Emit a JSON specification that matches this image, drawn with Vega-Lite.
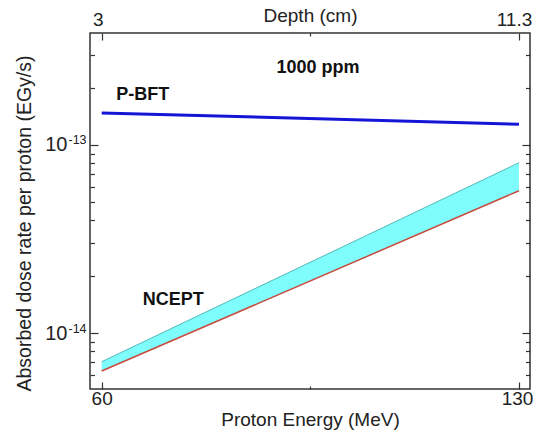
{
  "$schema": "https://vega.github.io/schema/vega-lite/v6.json",
  "width": 440,
  "height": 356,
  "autosize": {"type": "none"},
  "padding": {"left": 90, "top": 33, "right": 3, "bottom": 44},
  "background": "white",
  "config": {
    "font": "Liberation Sans",
    "view": {"stroke": "#333333", "strokeWidth": 1.5},
    "axis": {
      "domain": false,
      "grid": false,
      "tickColor": "#333333",
      "tickWidth": 1.2,
      "labelFontSize": 19,
      "labelColor": "#222222",
      "titleFontSize": 19,
      "titleFontWeight": "normal",
      "titleColor": "#222222"
    }
  },
  "datasets": {
    "series": [
      {"E": 60, "pbft": 1.48e-13, "lo": 6.28e-15, "hi": 7.04e-15},
      {"E": 130, "pbft": 1.29e-13, "lo": 5.71e-14, "hi": 8.05e-14}
    ],
    "labels": [
      {"E": 96.3, "v": 2.57e-13, "t": "1000 ppm"},
      {"E": 66.9, "v": 1.85e-13, "t": "P-BFT"},
      {"E": 72.0, "v": 1.5e-14, "t": "NCEPT"}
    ]
  },
  "layer": [
    {
      "data": {"name": "series"},
      "mark": {"type": "area", "color": "#7ffcfc", "opacity": 1},
      "encoding": {
        "x": {
          "field": "E", "type": "quantitative",
          "scale": {"domain": [58.04, 131.85], "nice": false, "zero": false},
          "axis": {
            "orient": "bottom",
            "title": "Proton Energy (MeV)",
            "values": [60, 95, 130],
            "tickSize": {"condition": {"test": "datum.value === 95", "value": -3}, "value": -7},
            "labelExpr": "datum.value === 95 ? '' : datum.label",
            "labelOffset": {"condition": {"test": "datum.value === 130", "value": -2}, "value": 0},
            "labelFontSize": 19,
            "labelPadding": 7,
            "titleFontSize": 19,
            "titleY": 21,
            "titleBaseline": "top"
          }
        },
        "y": {
          "field": "hi", "type": "quantitative",
          "scale": {"type": "log", "domain": [5.04e-15, 3.94e-13], "nice": false},
          "axis": {
            "orient": "left",
            "title": "Absorbed dose rate per proton (EGy/s)",
            "values": [6e-15, 7e-15, 8e-15, 9e-15, 1e-14, 2e-14, 3e-14, 4e-14, 5e-14, 6e-14, 7e-14, 8e-14, 9e-14, 1e-13, 2e-13, 3e-13],
            "tickSize": {"condition": {"test": "datum.value === 1e-13 || datum.value === 1e-14", "value": -8}, "value": -4.5},
            "labelExpr": "(datum.value === 1e-13 || datum.value === 1e-14) ? '10' : ''",
            "labelFontSize": 20,
            "labelPadding": 31,
            "labelBaseline": "middle",
            "titleFontSize": 19.5,
            "titleX": -56,
            "titleY": 190
          }
        },
        "y2": {"field": "lo"}
      }
    },
    {
      "data": {"name": "series"},
      "mark": {"type": "line", "color": "#1515d8", "strokeWidth": 3},
      "encoding": {
        "x": {
          "field": "E", "type": "quantitative",
          "scale": {"domain": [58.04, 131.85], "nice": false, "zero": false},
          "axis": {
            "orient": "top",
            "title": "Depth (cm)",
            "values": [60, 95, 130],
            "tickSize": {"condition": {"test": "datum.value === 95", "value": -3}, "value": -7},
            "labelExpr": "datum.value === 60 ? '3' : (datum.value === 130 ? '11.3' : '')",
            "labelOffset": {"condition": {"test": "datum.value === 130", "value": -5}, "value": -4},
            "labelFontSize": 19,
            "labelPadding": 11,
            "titleFontSize": 19,
            "titleY": -18,
            "titleBaseline": "middle"
          }
        },
        "y": {
          "field": "pbft", "type": "quantitative",
          "scale": {"type": "log", "domain": [5.04e-15, 3.94e-13], "nice": false},
          "axis": {
            "orient": "right",
            "title": null,
            "values": [6e-15, 7e-15, 8e-15, 9e-15, 1e-14, 2e-14, 3e-14, 4e-14, 5e-14, 6e-14, 7e-14, 8e-14, 9e-14, 1e-13, 2e-13, 3e-13],
            "tickSize": {"condition": {"test": "datum.value === 1e-13 || datum.value === 1e-14", "value": -8}, "value": -4.5},
            "labels": false
          }
        }
      }
    },
    {
      "data": {"name": "series"},
      "mark": {"type": "line", "color": "#c84a3c", "strokeWidth": 1.5},
      "encoding": {
        "x": {"field": "E", "type": "quantitative", "axis": null},
        "y": {
          "field": "lo", "type": "quantitative",
          "scale": {"type": "log", "domain": [5.04e-15, 3.94e-13], "nice": false},
          "axis": {
            "orient": "left",
            "title": null,
            "ticks": false,
            "values": [1e-14, 1e-13],
            "labelExpr": "datum.value === 1e-13 ? '-13' : '-14'",
            "labelFontSize": 12.5,
            "labelAlign": "left",
            "labelBaseline": "middle",
            "labelPadding": 22,
            "labelOffset": -5
          }
        }
      }
    },
    {
      "data": {"name": "series"},
      "mark": {"type": "line", "color": "#3aa7a7", "strokeWidth": 0.8},
      "encoding": {
        "x": {"field": "E", "type": "quantitative", "axis": null},
        "y": {"field": "hi", "type": "quantitative", "axis": null}
      }
    },
    {
      "data": {"name": "labels"},
      "mark": {"type": "text", "fontSize": 18, "fontWeight": "bold", "color": "#111111", "baseline": "middle", "align": "center"},
      "encoding": {
        "x": {"field": "E", "type": "quantitative", "axis": null},
        "y": {"field": "v", "type": "quantitative", "axis": null},
        "text": {"field": "t"}
      }
    }
  ],
  "resolve": {"axis": {"x": "independent", "y": "independent"}}
}
